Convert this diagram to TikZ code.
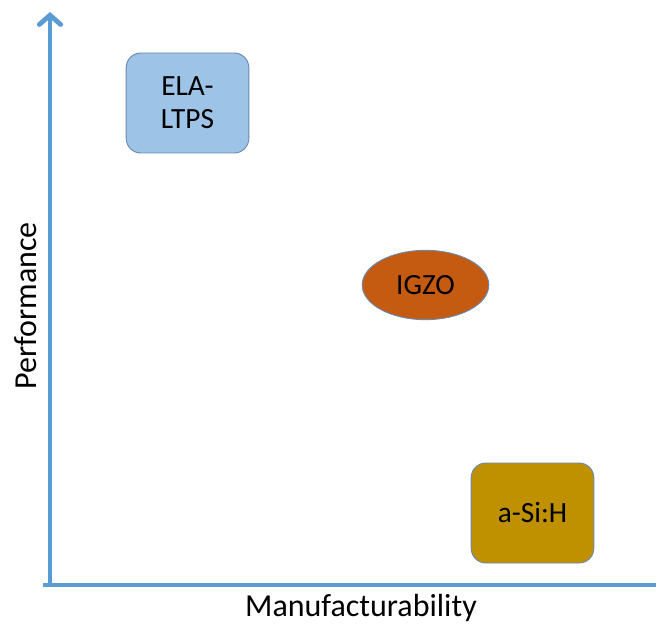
\documentclass[tikz,border=0pt]{standalone}
\usepackage{fontspec}
\setmainfont{Carlito}
\usepackage{tikz}
\usetikzlibrary{arrows.meta,shapes.geometric}
\definecolor{axisblue}{HTML}{5B9BD5}
\definecolor{ltpsblue}{HTML}{9DC3E6}
\definecolor{igzoorange}{HTML}{C55A11}
\definecolor{asigold}{HTML}{BF9000}
\definecolor{edgeblue}{HTML}{6A8AB0}

\tikzset{
  axis/.style={line width=3.6pt,color=axisblue,-{Straight Barb[length=7pt,width=16pt,line cap=round]}},
  techbox/.style={draw=edgeblue,line width=0.7pt,rounded corners=11pt,minimum width=92pt,minimum height=75pt,align=center,font=\fontsize{22}{25}\selectfont},
  techoval/.style={ellipse,draw=edgeblue,line width=0.7pt,minimum width=95pt,minimum height=52pt,inner sep=0pt,font=\fontsize{22}{25}\selectfont},
  axislabel/.style={font=\fontsize{24}{28}\selectfont}
}

\begin{document}
\begin{tikzpicture}[x=0.75pt,y=0.75pt]
\useasboundingbox (0,0) rectangle (656,626);
% axes
\coordinate (origin) at (50,41);
\coordinate (ytip) at (50,614);
\coordinate (xtip) at (672,41);
\draw[axis] (origin) -- (ytip);
\draw[axis] (43,41) -- (xtip);
% technologies
\node[techbox,fill=ltpsblue] (ltps) at (187.5,523) {ELA-\\LTPS};
\node[techoval,fill=igzoorange] (igzo) at (425.5,341) {IGZO};
\node[techbox,fill=asigold] (asi) at (532.5,113) {a-Si:H};
% labels
\node[axislabel,rotate=90] (perf) at (26,320) {Performance};
\node[axislabel] (manu) at (361,18) {Manufacturability};
\end{tikzpicture}
\end{document}
